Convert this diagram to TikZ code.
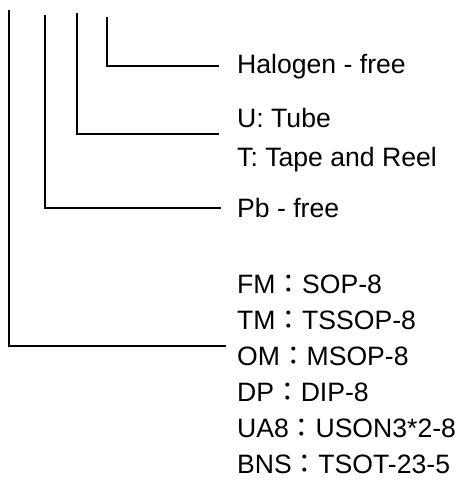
\documentclass[tikz,border=0pt]{standalone}
\usepackage{fontspec}
\setmainfont{Liberation Sans}
\newfontfamily\cjk{Noto Sans CJK TC}
\newcommand{\fwc}{{\cjk ：}}
\begin{document}
\begin{tikzpicture}[x=1pt,y=-1pt,
  wire/.style={line width=1.3pt, line join=miter},
  lbl/.style={anchor=base west, inner sep=0pt, font=\fontsize{26.6}{30}\selectfont}]
\useasboundingbox (0,0) rectangle (461,488);
% labels
\node[lbl] (hal) at (237,73) {Halogen - free};
\node[lbl] (u)   at (237,127) {U: Tube};
\node[lbl] (t)   at (237,166) {T: Tape and Reel};
\node[lbl] (pb)  at (237,217) {Pb - free};
\node[lbl] (fm)  at (237,293) {FM\fwc SOP-8};
\node[lbl] (tm)  at (237,329) {TM\fwc TSSOP-8};
\node[lbl] (om)  at (237,365) {OM\fwc MSOP-8};
\node[lbl] (dp)  at (237,401) {DP\fwc DIP-8};
\node[lbl] (ua)  at (237,437) {UA8\fwc USON3*2-8};
\node[lbl] (bns) at (237,473) {BNS\fwc TSOT-23-5};
% connector points
\coordinate (a1) at (9,10);   \coordinate (b1) at (9,346);  \coordinate (e1) at (226,346);
\coordinate (a2) at (45,15);  \coordinate (b2) at (45,208); \coordinate (e2) at (221,208);
\coordinate (a3) at (77,13);  \coordinate (b3) at (77,134); \coordinate (e3) at (219,134);
\coordinate (a4) at (107,17); \coordinate (b4) at (107,66); \coordinate (e4) at (219,66);
\draw[wire] (a1) -- (b1) -- (e1);
\draw[wire] (a2) -- (b2) -- (e2);
\draw[wire] (a3) -- (b3) -- (e3);
\draw[wire] (a4) -- (b4) -- (e4);
\end{tikzpicture}
\end{document}
